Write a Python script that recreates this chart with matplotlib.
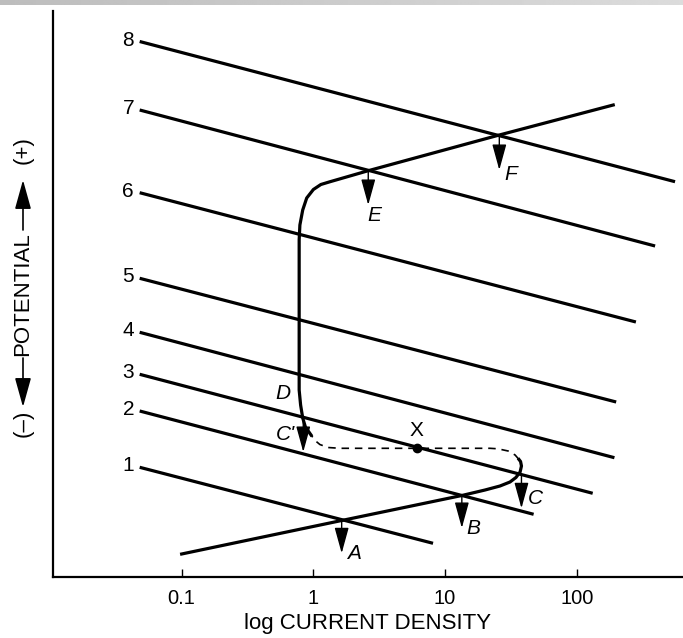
import numpy as np
import matplotlib.pyplot as plt

plt.rcParams['font.family'] = ['Liberation Sans', 'DejaVu Sans']

# Cathodic lines 1..8 (left end and right end of each line)
line_names = ['1', '2', '3', '4', '5', '6', '7', '8']
line_i_start = [0.048, 0.048, 0.048, 0.048, 0.048, 0.048, 0.048, 0.048]
line_e_start = [10.97, 16.6, 20.27, 24.47, 29.87, 38.43, 46.7, 53.55]
line_i_end = [8.1, 47, 132, 193, 199, 281, 393, 557]
line_e_end = [3.37, 6.27, 8.37, 11.93, 17.5, 25.5, 33.1, 39.53]

# Anodic curve: active branch up to the nose near C
active_i = [0.100, 1.64, 13.4, 20.1, 26.1, 31.1, 34.5, 37.1, 38.0, 37.4, 36.4]
active_e = [2.30, 5.65, 8.15, 8.70, 9.10, 9.50, 9.95, 10.50, 11.10, 11.55, 11.75]

# unstable part (dashed) running back through X
unstable_i = [36.4, 34.0, 30.1, 25.2, 21.9, 1.59, 1.29, 1.12, 1.03, 0.96]
unstable_e = [11.75, 12.2, 12.6, 12.82, 12.87, 12.87, 12.95, 13.25, 13.65, 14.2]

# passive region and transpassive branch through E and F
passive_i = [0.96, 0.87, 0.83, 0.80, 0.78, 0.78, 0.78, 0.79, 0.83, 0.89,
             1.00, 1.14, 1.34, 2.61, 25.8, 189]
passive_e = [14.2, 15.0, 15.9, 17.2, 18.7, 20.7, 33.7, 35.2, 36.7, 37.9,
             38.75, 39.25, 39.53, 40.63, 44.2, 47.2]

# Intersections marked with arrows
point_names = ['A', 'B', 'C', "C'", 'E', 'F']
point_i = [1.64, 13.4, 38.0, 0.838, 2.61, 25.8]
point_e = [5.65, 8.15, 10.3, 15.7, 40.63, 44.2]
tip_e = [2.37, 4.9, 6.87, 12.5, 37.2, 40.7]
label_i = [2.02, 16.4, 48.9, 0.608, 2.90, 31.3]
label_e = [2.37, 4.87, 7.8, 14.3, 36.12, 40.2]

# D label and the point X on the dashed branch
d_label = (0.587, 18.33)
x_point = (6.08, 12.87)
x_label = (6.08, 14.7)

tick_values = [0.1, 1, 10, 100]
tick_labels = ['0.1', '1', '10', '100']

W, H = 683, 638
fig = plt.figure(figsize=(W / 100, H / 100), dpi=100)
ax = fig.add_axes([53 / W, (H - 577) / H, (W - 53) / W, (577 - 11) / H])

ax.set_xscale('log')
ax.set_xlim(0.01055, 640)
ax.set_ylim(0, 56.6)

# cathodic lines with their numbers
for name, i0, e0, i1, e1 in zip(line_names, line_i_start, line_e_start, line_i_end, line_e_end):
    ax.plot([i0, i1], [e0, e1], color='black', lw=2.3, solid_capstyle='butt')
    ax.annotate(name, (i0, e0), textcoords='offset points', xytext=(-4, 1),
                ha='right', va='center', fontsize=15)

# anodic polarisation curve
ax.plot(active_i, active_e, color='black', lw=2.3, solid_joinstyle='round')
ax.plot(unstable_i, unstable_e, color='black', lw=1.2, linestyle=(0, (4.5, 3.5)))
ax.plot(passive_i, passive_e, color='black', lw=2.3, solid_joinstyle='round')

# arrows pointing down from the intersections
for name, pi, pe, te, li, le in zip(point_names, point_i, point_e, tip_e, label_i, label_e):
    ax.annotate('', xy=(pi, te), xytext=(pi, pe),
                arrowprops=dict(arrowstyle='-|>,head_length=0.8,head_width=0.22',
                                mutation_scale=20, color='black', lw=1,
                                shrinkA=0, shrinkB=0))
    ax.text(li, le, name, fontsize=15, style='italic', ha='center', va='center')

ax.text(d_label[0], d_label[1], 'D', fontsize=15, style='italic', ha='center', va='center')
ax.plot(x_point[0], x_point[1], 'o', color='black', markersize=6)
ax.text(x_label[0], x_label[1], 'X', fontsize=15, ha='center', va='center')

# axes: only left and bottom spines
for side in ['top', 'right']:
    ax.spines[side].set_visible(False)
for side in ['left', 'bottom']:
    ax.spines[side].set_linewidth(1.6)

ax.set_xticks(tick_values)
ax.set_xticklabels(tick_labels, fontsize=14.5)
ax.xaxis.set_minor_locator(plt.NullLocator())
ax.tick_params(axis='x', direction='in', length=6, width=1, pad=9)
ax.set_yticks([])
ax.set_xlabel('log CURRENT DENSITY', fontsize=16, labelpad=3)

# potential label with arrows, built from pieces
xl = 23
fig.text(xl / W, (H - 150) / H, '(+)', rotation=90, fontsize=16, ha='center', va='center')
fig.text(xl / W, (H - 294) / H, 'POTENTIAL', rotation=90, fontsize=16, ha='center', va='center')
fig.text(xl / W, (H - 423) / H, '(–)', rotation=90, fontsize=16, ha='center', va='center')
arrow_kw = dict(arrowstyle='-|>,head_length=0.9,head_width=0.25', mutation_scale=20,
                color='black', lw=1.2, shrinkA=0, shrinkB=0)
fig.add_artist(plt.matplotlib.patches.FancyArrowPatch(
    (xl, H - 230), (xl, H - 180), transform=None, **arrow_kw))
fig.add_artist(plt.matplotlib.patches.FancyArrowPatch(
    (xl, H - 358), (xl, H - 407), transform=None, **arrow_kw))

# grey strip along the top edge
band = fig.add_axes([0, 1 - 5 / H, 1, 5 / H])
band.imshow(np.linspace(0.74, 0.86, 256)[None, :], cmap='gray', vmin=0, vmax=1, aspect='auto')
band.axis('off')

fig.savefig('out.png', dpi=100)
